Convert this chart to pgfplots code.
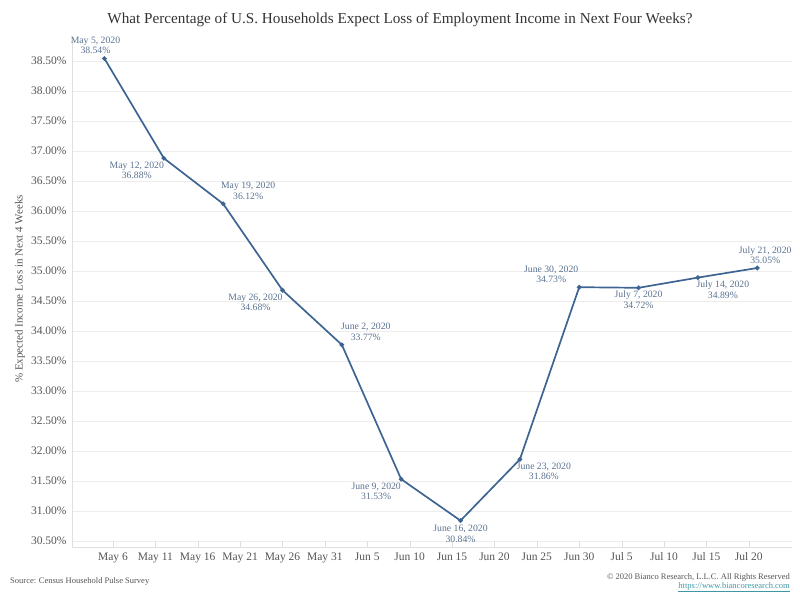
\documentclass[border=0pt]{standalone}
\usepackage{fontspec}
\setmainfont{Liberation Serif}
\usepackage{pgfplots}
\pgfplotsset{compat=1.18}
\definecolor{linec}{HTML}{3E6592}
\definecolor{annc}{HTML}{5A7290}
\definecolor{tickc}{HTML}{555555}
\definecolor{titlec}{HTML}{333333}
\definecolor{urlc}{HTML}{3F97A6}
\newcommand{\ann}[5]{\node[font=\fontsize{9.7}{10.5}\selectfont, text=annc, align=center, inner sep=0pt, xshift=#3pt, yshift=#4pt] at (axis cs:#1,#2) {#5};}
\begin{document}
\begin{tikzpicture}
\path[use as bounding box] (0,0) rectangle (800pt,600pt);
\begin{axis}[
  at={(72pt,53pt)}, anchor=south west,
  scale only axis, width=720pt, height=507pt,
  xmin=1.17, xmax=86.1, ymin=30.4, ymax=38.85,
  axis x line*=bottom, axis y line*=left,
  axis line style={gray!25,-},
  xtick={6,11,16,21,26,31,36,41,46,51,56,61,66,71,76,81},
  xticklabels={May 6,May 11,May 16,May 21,May 26,May 31,Jun 5,Jun 10,Jun 15,Jun 20,Jun 25,Jun 30,Jul 5,Jul 10,Jul 15,Jul 20},
  ytick={30.5,31,31.5,32,32.5,33,33.5,34,34.5,35,35.5,36,36.5,37,37.5,38,38.5},
  yticklabel={\pgfmathprintnumber[fixed,fixed zerofill,precision=2]{\tick}\%},
  /pgf/number format/assume math mode=true,
  ymajorgrids, grid style={gray!14, line width=0.8pt},
  ytick style={draw=none},
  xtick style={gray!25},
  tick align=inside, major tick length=6pt,
  ticklabel style={font=\fontsize{11.5}{12}\selectfont, text=tickc},
  xticklabel style={yshift=-2pt},
  yticklabel style={xshift=-2pt},
  clip=false,
]
\addplot[linec, line width=1.7pt, mark=*, mark size=1.4pt, mark options={fill=linec}] coordinates {
(5,38.54) (12,36.88) (19,36.12) (26,34.68) (33,33.77) (40,31.53) (47,30.84) (54,31.86) (61,34.73) (68,34.72) (75,34.89) (82,35.05)
};
\ann{5}{38.54}{-9}{13}{May 5, 2020\\38.54\%}
\ann{12}{36.88}{-27}{-12}{May 12, 2020\\36.88\%}
\ann{19}{36.12}{25}{13}{May 19, 2020\\36.12\%}
\ann{26}{34.68}{-27}{-12}{May 26, 2020\\34.68\%}
\ann{33}{33.77}{24}{13}{June 2, 2020\\33.77\%}
\ann{40}{31.53}{-25}{-12}{June 9, 2020\\31.53\%}
\ann{47}{30.84}{0}{-13}{June 16, 2020\\30.84\%}
\ann{54}{31.86}{24}{-12}{June 23, 2020\\31.86\%}
\ann{61}{34.73}{-28}{13}{June 30, 2020\\34.73\%}
\ann{68}{34.72}{0}{-12}{July 7, 2020\\34.72\%}
\ann{75}{34.89}{25}{-12}{July 14, 2020\\34.89\%}
\ann{82}{35.05}{8}{13}{July 21, 2020\\35.05\%}
\end{axis}
\node[font=\fontsize{15.2}{17}\selectfont, text=titlec] at (400pt,580pt) {What Percentage of U.S. Households Expect Loss of Employment Income in Next Four Weeks?};
\node[font=\fontsize{11}{12}\selectfont, text=tickc, rotate=90] at (20pt,311pt) {\% Expected Income Loss in Next 4 Weeks};
\node[font=\fontsize{8.5}{9}\selectfont, text=tickc, anchor=west, inner sep=0pt] at (10pt,19pt) {Source: Census Household Pulse Survey};
\node[font=\fontsize{8.5}{9}\selectfont, text=tickc, anchor=east, inner sep=0pt] at (790pt,23pt) {\textcopyright{} 2020 Bianco Research, L.L.C. All Rights Reserved};
\node[font=\fontsize{8.5}{9}\selectfont, text=urlc, anchor=east, inner sep=0pt] at (790pt,13pt) {\underline{https://www.biancoresearch.com}};
\end{tikzpicture}
\end{document}
